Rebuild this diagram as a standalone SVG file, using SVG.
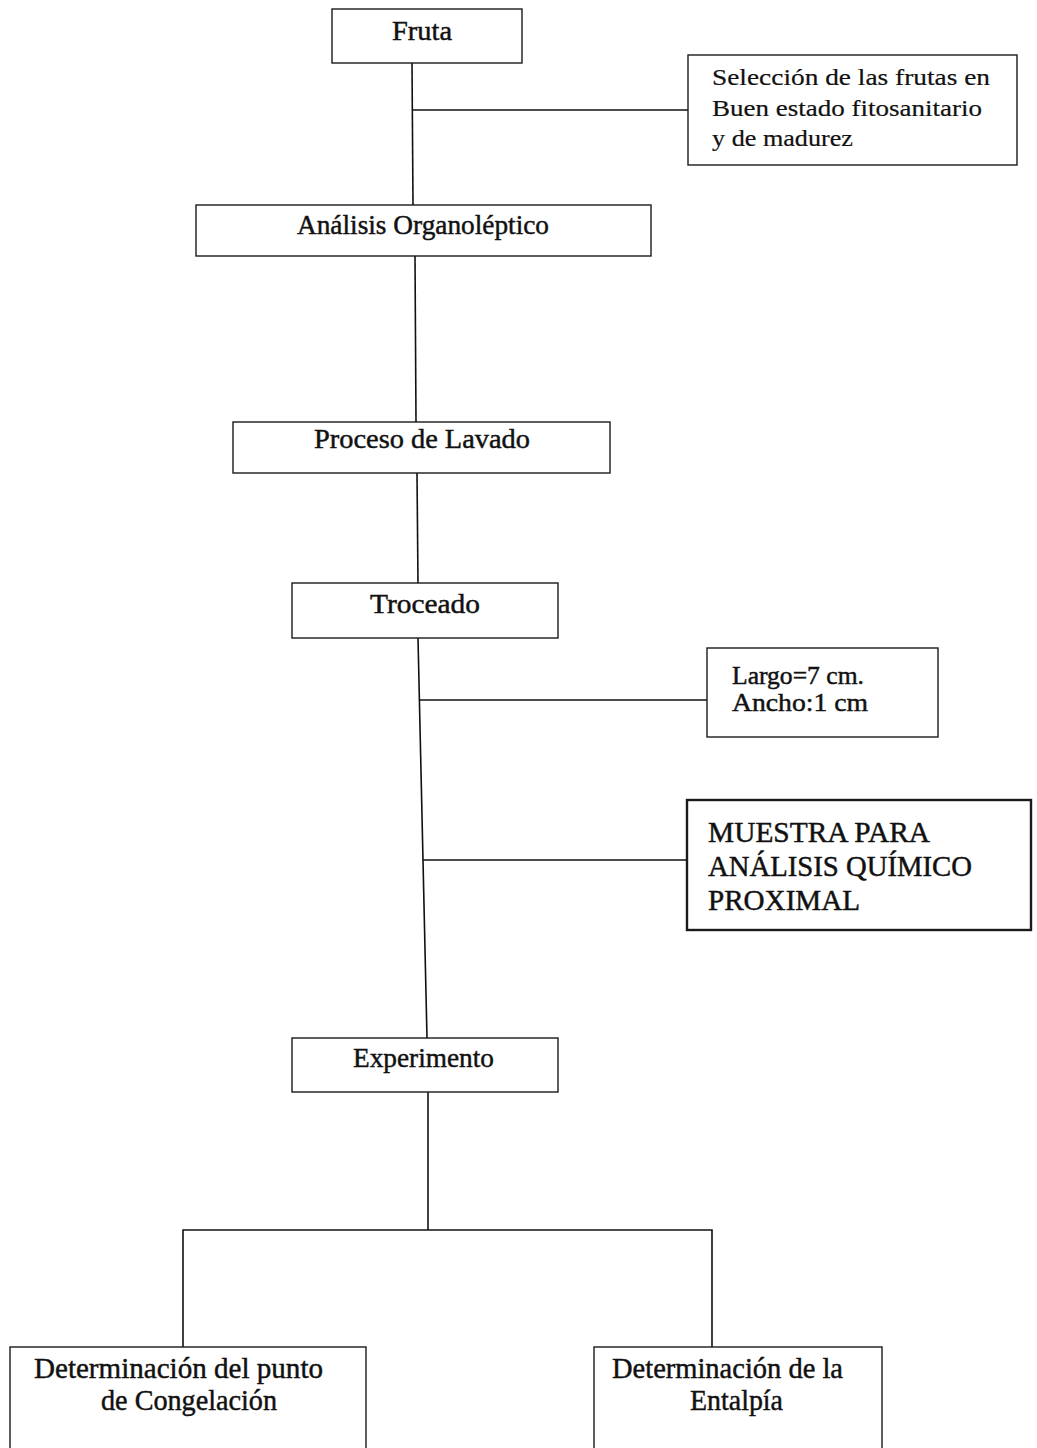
<svg xmlns="http://www.w3.org/2000/svg" width="1037" height="1448" viewBox="0 0 1037 1448">
<style>
.box{fill:#fff;stroke:#1a1a1a;stroke-width:1.4}
.thick{stroke-width:2.4}
.ln{fill:none;stroke:#111;stroke-width:1.6}
text{font-family:"Liberation Serif","DejaVu Serif",serif;fill:#111;stroke:#111;stroke-width:0.45}
.t{font-size:27px}
.s{font-size:23px;stroke-width:0.2}
.m{font-size:25px}
.b{font-size:29px}
</style>
<rect width="1037" height="1448" fill="#fff"/>
<g id="connectors">
<line class="ln" x1="412" y1="63" x2="413" y2="205"/>
<line class="ln" x1="413" y1="110" x2="688" y2="110"/>
<line class="ln" x1="415" y1="256" x2="416" y2="422"/>
<line class="ln" x1="417" y1="473" x2="418" y2="583"/>
<line class="ln" x1="418" y1="638" x2="427" y2="1038"/>
<line class="ln" x1="420" y1="700" x2="707" y2="700"/>
<line class="ln" x1="423" y1="860" x2="687" y2="860"/>
<line class="ln" x1="428" y1="1092" x2="428" y2="1230"/>
<polyline class="ln" points="183,1347 183,1230 712,1230 712,1347"/>
</g>
<g id="n-fruta">
<rect class="box" x="332" y="9" width="190" height="54"/>
<text class="t" x="392" y="40" textLength="60" lengthAdjust="spacingAndGlyphs">Fruta</text>
</g>
<g id="n-seleccion">
<rect class="box" x="688" y="55" width="329" height="110"/>
<text class="s" x="712" y="85" textLength="278" lengthAdjust="spacingAndGlyphs">Selección de las frutas en</text>
<text class="s" x="712" y="116" textLength="270" lengthAdjust="spacingAndGlyphs">Buen estado fitosanitario</text>
<text class="s" x="712" y="146" textLength="141" lengthAdjust="spacingAndGlyphs">y de madurez</text>
</g>
<g id="n-analisis">
<rect class="box" x="196" y="205" width="455" height="51"/>
<text class="t" x="297" y="234" textLength="252" lengthAdjust="spacingAndGlyphs">Análisis Organoléptico</text>
</g>
<g id="n-lavado">
<rect class="box" x="233" y="422" width="377" height="51"/>
<text class="t" x="314" y="448" textLength="216" lengthAdjust="spacingAndGlyphs">Proceso de Lavado</text>
</g>
<g id="n-troceado">
<rect class="box" x="292" y="583" width="266" height="55"/>
<text class="t" x="370" y="613" textLength="110" lengthAdjust="spacingAndGlyphs">Troceado</text>
</g>
<g id="n-medidas">
<rect class="box" x="707" y="648" width="231" height="89"/>
<text class="m" x="732" y="684" textLength="132" lengthAdjust="spacingAndGlyphs">Largo=7 cm.</text>
<text class="m" x="732" y="711" textLength="136" lengthAdjust="spacingAndGlyphs">Ancho:1 cm</text>
</g>
<g id="n-muestra">
<rect class="box thick" x="687" y="800" width="344" height="130"/>
<text class="b" x="708" y="842" textLength="222" lengthAdjust="spacingAndGlyphs">MUESTRA PARA</text>
<text class="b" x="708" y="876" textLength="264" lengthAdjust="spacingAndGlyphs">ANÁLISIS QUÍMICO</text>
<text class="b" x="708" y="910" textLength="152" lengthAdjust="spacingAndGlyphs">PROXIMAL</text>
</g>
<g id="n-experimento">
<rect class="box" x="292" y="1038" width="266" height="54"/>
<text class="t" x="353" y="1067" textLength="141" lengthAdjust="spacingAndGlyphs">Experimento</text>
</g>
<g id="n-congelacion">
<rect class="box" x="10" y="1347" width="356" height="120"/>
<text class="b" x="34" y="1378" textLength="289" lengthAdjust="spacingAndGlyphs">Determinación del punto</text>
<text class="b" x="101" y="1410" textLength="176" lengthAdjust="spacingAndGlyphs">de Congelación</text>
</g>
<g id="n-entalpia">
<rect class="box" x="594" y="1347" width="288" height="120"/>
<text class="b" x="612" y="1378" textLength="231" lengthAdjust="spacingAndGlyphs">Determinación de la</text>
<text class="b" x="690" y="1410" textLength="93" lengthAdjust="spacingAndGlyphs">Entalpía</text>
</g>
</svg>
